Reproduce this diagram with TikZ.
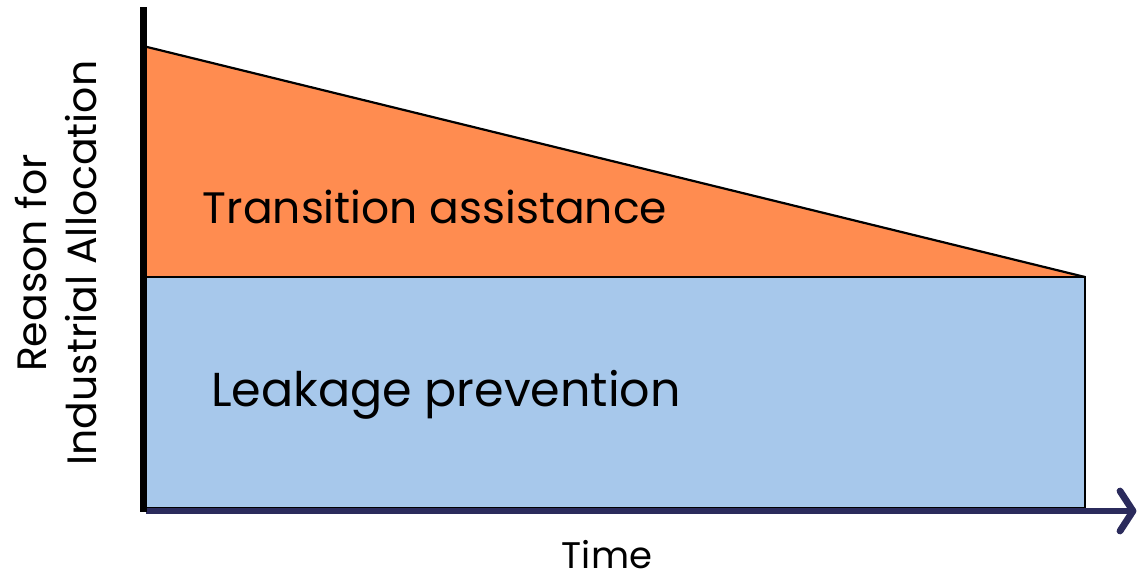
\documentclass[tikz,border=0pt]{standalone}
\usepackage{fontspec}
\setmainfont{Poppins}
\usetikzlibrary{arrows.meta}
\definecolor{orangefill}{HTML}{FF8C50}
\definecolor{bluefill}{HTML}{A7C8EB}
\definecolor{axisnavy}{HTML}{2B2B5C}
\tikzset{
  lbl/.style={text=black, inner sep=0pt},
  area/.style={draw=black, line width=1.1pt, line join=miter},
}
\begin{document}
\begin{tikzpicture}[x=0.5pt,y=-0.5pt]
\useasboundingbox (0,0) rectangle (1138,578);
% areas
\coordinate (tl) at (143,46);
\coordinate (ml) at (143,277);
\coordinate (mr) at (1085,277);
\coordinate (bl) at (143,508);
\coordinate (br) at (1085,508);
\fill[bluefill] (ml) rectangle (br);
\fill[orangefill] (tl) -- (mr) -- (ml) -- cycle;
\draw[area] (tl) -- (mr);
\draw[area] (ml) -- (mr) -- (br) -- (bl);
% axes
\coordinate (ytop) at (143,7);
\coordinate (yorig) at (143,512);
\coordinate (xend) at (1133,511);
\draw[axisnavy, line width=2.8pt] (146,511) -- (xend);
\draw[axisnavy, line width=3.4pt, line cap=round, line join=round] (1120,491) -- (xend) -- (1120,531);
\draw[black, line width=3.5pt] (ytop) -- (yorig);
% labels
\node[lbl, font=\fontsize{22}{26}\selectfont] (ta) at (435,207) {Transition assistance};
\node[lbl, font=\fontsize{23.8}{28}\selectfont] (lp) at (446,395) {Leakage prevention};
\node[lbl, font=\fontsize{18.5}{22}\selectfont] (time) at (607,555) {Time};
\node[lbl, rotate=90, align=center, font=\fontsize{20.5}{25}\selectfont] (ylab) at (56,263) {Reason for\\Industrial Allocation};
\end{tikzpicture}
\end{document}
